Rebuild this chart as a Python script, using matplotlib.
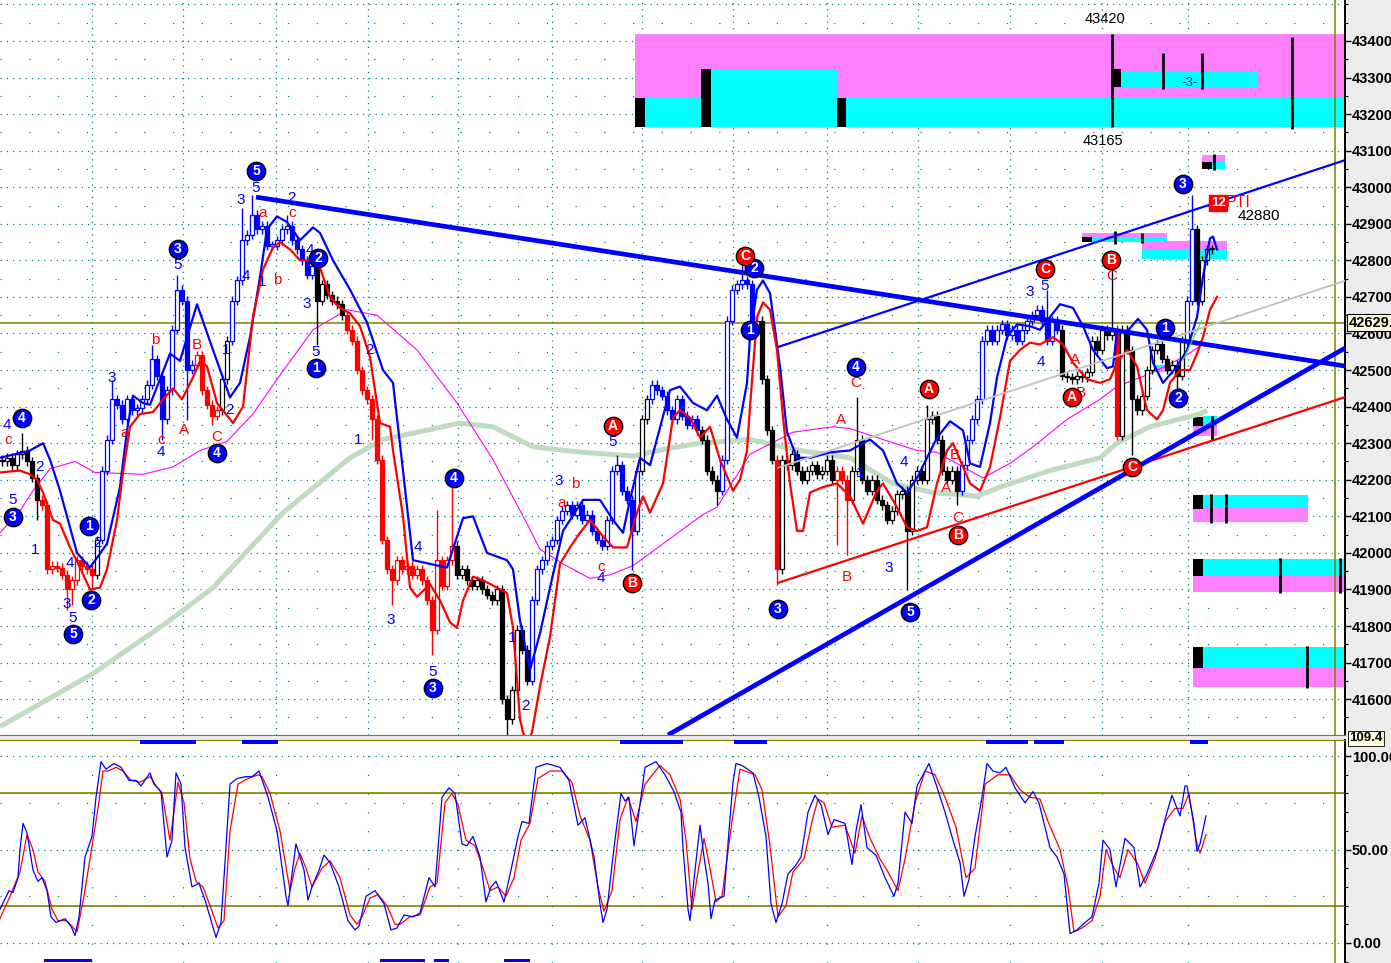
import numpy as np
import matplotlib
matplotlib.use("Agg")
import matplotlib.pyplot as plt
from matplotlib.patches import Rectangle
from matplotlib.transforms import blended_transform_factory
from matplotlib.ticker import FuncFormatter

plt.rcParams['font.family'] = ['Liberation Sans', 'DejaVu Sans']

BLUE = '#0000FF'
RED = '#FF0000'
OLIVE = '#808000'
TEAL = '#008080'
MAGENTA_BOX = '#FF80FF'
CYAN_BOX = '#00FFFF'

# ---------------- price bars (one bar every 5 chart units) ----------------
bar_step = 5
first_open = 42255
closes = [
    42250, 42260, 42240, 42270, 42280, 42250, 42205, 42145, 42130, 41955,
    41965, 41960, 41940, 41900, 41925, 41980, 41965, 41955, 41940, 42035,
    42225, 42310, 42420, 42405, 42365, 42420, 42390, 42395, 42420, 42460,
    42530, 42485, 42365, 42445, 42610, 42720, 42690, 42500, 42515, 42540,
    42445, 42405, 42375, 42390, 42475, 42580, 42690, 42745, 42855, 42870,
    42925, 42885, 42895, 42840, 42840, 42855, 42885, 42895, 42855, 42830,
    42800, 42760, 42785, 42690, 42735, 42705, 42690, 42680, 42650, 42610,
    42580, 42500, 42445, 42420, 42365, 42255, 42035, 41955, 41925, 41980,
    41955, 41965, 41940, 41955, 41925, 41870, 41790, 41980, 41910, 41980,
    42020, 41940, 41955, 41925, 41910, 41925, 41900, 41885, 41870, 41900,
    41600, 41545, 41625, 41790, 41735, 41650, 41870, 41955, 41980, 42020,
    42035, 42090, 42115, 42130, 42105, 42130, 42090, 42105, 42060, 42035,
    42020, 42090, 42225, 42240, 42170, 42145, 42060, 42225, 42365, 42420,
    42460, 42445, 42430, 42390, 42365, 42420, 42375, 42350, 42365, 42335,
    42310, 42225, 42200, 42170, 42255, 42635, 42720, 42735, 42745, 42735,
    42610, 42635, 42475, 42335, 42255, 41955, 42255, 42240, 42270, 42225,
    42200, 42225, 42240, 42215, 42225, 42255, 42200, 42225, 42200, 42145,
    42225, 42310, 42200, 42170, 42200, 42145, 42130, 42090, 42115, 42160,
    42170, 42060, 42200, 42225, 42200, 42365, 42375, 42310, 42225, 42200,
    42225, 42170, 42240, 42310, 42365, 42420, 42580, 42610, 42580, 42610,
    42625, 42595, 42610, 42580, 42610, 42635, 42650, 42665, 42635, 42580,
    42635, 42610, 42485, 42480, 42475, 42485, 42480, 42495, 42580, 42555,
    42610, 42595, 42610, 42320, 42610, 42555, 42420, 42390, 42430, 42500,
    42555, 42570, 42530, 42500, 42515, 42485, 42580, 42690, 42885, 42690,
    42800, 42830, 42830,
]
wick = 12
spike_hi = {4: 42328, 22: 42473, 30: 42568, 35: 42760, 48: 42943, 50: 42979,
            57: 42924, 87: 42117, 90: 42180, 123: 42268, 148: 42787, 171: 42426,
            185: 42404, 209: 42719, 222: 42787, 238: 42979}
spike_lo = {7: 42090, 13: 41844, 14: 41857, 18: 41898, 32: 42309, 37: 42363,
            42: 42350, 63: 42568, 74: 42309, 78: 41857, 86: 41720, 101: 41500,
            126: 41953, 143: 42131, 155: 41912, 167: 42021, 169: 41994, 181: 41898,
            191: 42131, 226: 42268, 235: 42445}
# bar colour by trend, (start position, colour)
trend_cols = [(0, 'k'), (42, 'r'), (95, 'k'), (100, 'b'), (197, 'r'), (218, 'k'),
              (232, 'b'), (315, 'k'), (345, 'r'), (455, 'k'), (530, 'b'), (640, 'k'),
              (650, 'b'), (700, 'k'), (722, 'b'), (760, 'k'), (775, 'r'), (780, 'k'),
              (835, 'r'), (850, 'k'), (960, 'b'), (1060, 'k'), (1114, 'r'), (1119, 'k'),
              (1185, 'b'), (1195, 'k')]

# ---------------- indicator lines ----------------
env_hi_x = [0, 30, 43, 50, 60, 77, 90, 107, 120, 127, 133, 143, 150, 170, 180, 197, 213, 230, 240, 250,
            260, 267, 277, 287, 300, 313, 320, 333, 350, 367, 383, 393, 403, 413, 430, 447, 463, 473, 487, 507,
            513, 520, 530, 540, 550, 563, 583, 600, 613, 623, 630, 640, 650, 670, 680, 693, 707, 717, 727, 737,
            747, 750, 757, 763, 770, 780, 787, 797, 810, 830, 850, 863, 870, 883, 897, 907, 917, 937, 950, 963,
            970, 980, 990, 997, 1007, 1017, 1030, 1040, 1050, 1060, 1073, 1083, 1093, 1107, 1113, 1117, 1127,
            1138, 1147, 1153, 1163, 1177, 1187, 1197, 1203, 1210, 1213, 1217]
env_hi = [42260, 42280, 42300, 42255, 42170, 42000, 41960, 42025, 42180, 42335, 42430, 42410, 42405, 42545,
          42525, 42680, 42555, 42425, 42465, 42590, 42755, 42885, 42920, 42905, 42855, 42890, 42875, 42800,
          42720, 42630, 42500, 42465, 42225, 41980, 41970, 41960, 42095, 42100, 42000, 41980, 41955, 41815,
          41680, 41780, 41905, 42060, 42145, 42145, 42090, 42055, 42145, 42260, 42240, 42445, 42455, 42410,
          42390, 42430, 42365, 42315, 42465, 42590, 42720, 42745, 42710, 42510, 42330, 42260, 42260, 42275,
          42280, 42300, 42310, 42280, 42190, 42165, 42205, 42315, 42360, 42335, 42245, 42235, 42355, 42480,
          42590, 42625, 42620, 42610, 42645, 42680, 42670, 42620, 42555, 42505, 42510, 42605, 42605, 42640,
          42610, 42520, 42465, 42510, 42555, 42645, 42755, 42860, 42865, 42830]
env_lo_x = [0, 20, 30, 37, 43, 53, 60, 70, 80, 90, 100, 107, 117, 123, 130, 140, 153, 163, 173, 182,
            193, 200, 207, 217, 233, 243, 253, 263, 273, 280, 290, 300, 310, 320, 330, 340, 350, 360, 370, 380,
            390, 393, 403, 410, 417, 430, 440, 450, 457, 463, 473, 483, 497, 507, 513, 520, 523, 527, 532, 540,
            550, 560, 570, 580, 590, 603, 613, 627, 637, 643, 650, 663, 673, 680, 690, 700, 710, 720, 733, 740,
            747, 750, 757, 763, 770, 777, 783, 790, 797, 803, 810, 823, 837, 850, 863, 877, 883, 897, 907, 917,
            927, 937, 947, 953, 963, 970, 980, 990, 1000, 1010, 1020, 1030, 1040, 1053, 1063, 1073, 1087, 1100,
            1110, 1117, 1127, 1137, 1147, 1157, 1163, 1170, 1180, 1190, 1197, 1203, 1210, 1217]
env_lo = [42220, 42225, 42215, 42200, 42165, 42090, 42080, 42015, 41960, 41900, 41905, 41955, 42090, 42220,
          42345, 42380, 42385, 42420, 42450, 42420, 42480, 42525, 42510, 42410, 42355, 42400, 42645, 42775,
          42835, 42850, 42830, 42800, 42800, 42780, 42700, 42670, 42655, 42620, 42535, 42355, 42345, 42280,
          42100, 41905, 41880, 41915, 41870, 41810, 41795, 41870, 41935, 41925, 41905, 41890, 41795, 41545,
          41510, 41475, 41510, 41635, 41770, 41970, 42015, 42055, 42090, 42045, 42015, 42015, 42110, 42155,
          42110, 42190, 42370, 42390, 42370, 42315, 42345, 42255, 42170, 42200, 42280, 42400, 42645, 42685,
          42665, 42555, 42370, 42190, 42060, 42060, 42165, 42180, 42190, 42155, 42080, 42170, 42190, 42125,
          42070, 42060, 42070, 42190, 42280, 42300, 42235, 42190, 42170, 42235, 42370, 42525, 42555, 42575,
          42570, 42590, 42570, 42520, 42475, 42465, 42475, 42520, 42555, 42510, 42390, 42365, 42390, 42465,
          42500, 42500, 42545, 42590, 42665, 42700]
ma_long_x = [0, 93, 167, 213, 283, 350, 383, 460, 493, 533, 583, 633, 667, 700, 750, 800, 850, 893, 933,
             977, 1000, 1050, 1100, 1117, 1150, 1200, 1207]
ma_long = [41525, 41670, 41810, 41905, 42110, 42260, 42310, 42355, 42345, 42290, 42275, 42265, 42285,
           42300, 42310, 42280, 42260, 42190, 42165, 42155, 42180, 42225, 42260, 42300, 42345, 42380, 42390]
ma_mid_x = [0, 20, 33, 50, 75, 95, 143, 173, 200, 227, 253, 277, 313, 347, 377, 417, 457, 493, 527, 540,
            563, 590, 610, 633, 663, 703, 717, 750, 793, 833, 850, 883, 917, 937, 963, 983, 1010, 1033, 1067,
            1100, 1117, 1150, 1183, 1203]
ma_mid = [42055, 42115, 42170, 42230, 42250, 42220, 42215, 42235, 42280, 42305, 42380, 42475, 42610, 42665,
          42650, 42555, 42410, 42255, 42080, 42010, 41970, 41930, 41940, 41965, 42025, 42105, 42125, 42270,
          42330, 42345, 42340, 42310, 42280, 42275, 42235, 42205, 42245, 42290, 42365, 42420, 42455, 42490,
          42535, 42570]

# trend lines ((x0, p0), (x1, p1), colour, width)
trend_lines = [
    ((777, 42232), (1345, 42744), '#C0C0C0', 1.3),
    ((778, 41918), (1345, 42426), RED, 1.6),
    ((778, 42563), (1345, 43074), BLUE, 1.6),
    ((256, 42973), (1345, 42511), BLUE, 3.4),
    ((668, 41502), (1345, 42560), BLUE, 3.4),
    ((1183, 42527), (1202, 42637), '#40E040', 0.8),
]
last_price = 42629.8

# projection boxes (x0, x1, p_low, p_high, colour)
boxes = [
    (635, 1345, 43244, 43420, MAGENTA_BOX), (635, 1345, 43165, 43244, CYAN_BOX),
    (711, 837, 43244, 43323, CYAN_BOX), (1121, 1257, 43271, 43318, CYAN_BOX),
    (635, 645, 43165, 43244, 'k'), (701, 711, 43165, 43323, 'k'), (837, 846, 43165, 43244, 'k'),
    (1112, 1121, 43274, 43323, 'k'),
    (1202, 1225, 43069, 43088, MAGENTA_BOX), (1212, 1225, 43050, 43069, CYAN_BOX), (1202, 1212, 43050, 43069, 'k'),
    (1082, 1167, 42862, 42875, MAGENTA_BOX), (1092, 1167, 42850, 42862, CYAN_BOX), (1082, 1092, 42850, 42863, 'k'),
    (1142, 1227, 42828, 42853, MAGENTA_BOX), (1142, 1227, 42804, 42828, CYAN_BOX),
    (1152, 1170, 42505, 42514, CYAN_BOX), (1152, 1170, 42495, 42505, MAGENTA_BOX),
    (1193, 1217, 42320, 42347, MAGENTA_BOX), (1203, 1217, 42347, 42374, CYAN_BOX), (1193, 1203, 42347, 42371, 'k'),
    (1193, 1308, 42123, 42158, CYAN_BOX), (1193, 1308, 42084, 42123, MAGENTA_BOX), (1193, 1203, 42120, 42158, 'k'),
    (1193, 1345, 41937, 41983, CYAN_BOX), (1193, 1345, 41893, 41937, MAGENTA_BOX), (1193, 1203, 41937, 41983, 'k'),
    (1193, 1345, 41688, 41742, CYAN_BOX), (1193, 1345, 41633, 41688, MAGENTA_BOX), (1193, 1203, 41686, 41742, 'k'),
]
box_ticks = [(1112, 43165, 43420), (1163, 43269, 43367), (1202, 43269, 43367), (1292, 43159, 43411),
             (1214, 43047, 43091), (1115, 42844, 42880), (1142, 42847, 42875), (1212, 42309, 42374),
             (1211, 42081, 42161), (1226, 42081, 42161), (1280, 41890, 41986), (1340, 41890, 41986),
             (1307, 41630, 41745)]

# wave labels (x, price, text)
blue_digits = [(7, 42350, '4'), (13, 42145, '5'), (40, 42235, '2'), (35, 42008, '1'), (67, 41860, '3'),
               (73, 41822, '5'), (70, 41972, '4'), (98, 42027, '2'), (112, 42478, '3'), (178, 42787, '5'),
               (161, 42276, '4'), (226, 42555, '1'), (229, 42391, '2'), (246, 42757, '4'), (241, 42965, '3'),
               (256, 42998, '5'), (262, 42741, '1'), (292, 42970, '2'), (310, 42828, '4'), (307, 42681, '3'),
               (316, 42549, '5'), (358, 42309, '1'), (370, 42555, '2'), (418, 42016, '4'), (391, 41816, '3'),
               (433, 41674, '5'), (512, 41767, '1'), (526, 41581, '2'), (559, 42196, '3'), (601, 41931, '4'),
               (613, 42303, '5'), (860, 42218, '1'), (889, 41959, '3'), (904, 42248, '4'), (1030, 42713, '3'),
               (1045, 42730, '5'), (1041, 42522, '4')]
red_letters = [(8, 42309, 'c'), (125, 42328, 'a'), (155, 42582, 'b'), (161, 42309, 'c'), (184, 42336, 'A'),
               (197, 42568, 'B'), (217, 42317, 'C'), (263, 42929, 'a'), (277, 42746, 'b'), (292, 42929, 'c'),
               (562, 42136, 'a'), (575, 42188, 'b'), (601, 41961, 'c'), (841, 42363, 'A'), (847, 41934, 'B'),
               (856, 42465, 'C'), (946, 42177, 'A'), (955, 42268, 'B'), (958, 42095, 'C'), (1075, 42527, 'A'),
               (1081, 42437, 'B'), (1112, 42757, 'C')]
blue_circles = [(22, 42369, '4'), (13, 42098, '3'), (73, 41778, '5'), (91, 41871, '2'), (89, 42073, '1'),
                (178, 42831, '3'), (217, 42273, '4'), (256, 43044, '5'), (318, 42806, '2'), (316, 42506, '1'),
                (454, 42205, '4'), (433, 41630, '3'), (754, 42779, '2'), (750, 42610, '1'), (778, 41846, '3'),
                (856, 42508, '4'), (910, 41838, '5'), (1165, 42615, '1'), (1178, 42424, '2'), (1183, 43009, '3')]
red_circles = [(613, 42347, 'A'), (632, 41918, 'B'), (745, 42812, 'C'), (929, 42448, 'A'), (958, 42049, 'B'),
               (1045, 42776, 'C'), (1072, 42426, 'A'), (1111, 42801, 'B'), (1132, 42235, 'C')]

time_grid = [92, 183, 276, 368, 458, 552, 642, 733, 827, 918, 1010, 1102, 1188]

# ---------------- oscillator ----------------
osc_k_x = [0, 9, 13, 18, 20, 23, 27, 33, 38, 42, 47, 51, 56, 65, 71, 75, 79, 85, 92, 96,
           101, 106, 114, 121, 129, 136, 141, 150, 154, 161, 167, 172, 176, 181, 185, 192, 199, 205, 216, 221,
           225, 230, 237, 246, 252, 259, 268, 277, 286, 288, 292, 296, 304, 308, 312, 319, 324, 330, 339, 348,
           355, 359, 366, 375, 384, 391, 397, 404, 413, 420, 429, 435, 442, 449, 455, 462, 467, 473, 480, 486,
           491, 496, 504, 511, 518, 522, 529, 536, 547, 560, 569, 578, 585, 594, 600, 603, 607, 614, 621, 625,
           629, 634, 641, 645, 656, 665, 674, 681, 683, 688, 690, 694, 700, 704, 708, 711, 715, 724, 729, 733,
           736, 742, 753, 759, 766, 771, 776, 782, 788, 795, 801, 808, 815, 821, 828, 834, 845, 852, 856, 861,
           867, 876, 885, 894, 898, 905, 912, 917, 929, 936, 945, 953, 960, 964, 969, 975, 982, 987, 993, 1000,
           1006, 1015, 1025, 1033, 1039, 1044, 1050, 1057, 1064, 1070, 1077, 1083, 1092, 1099, 1103, 1110, 1116,
           1125, 1134, 1140, 1147, 1158, 1167, 1172, 1180, 1185, 1187, 1194, 1197, 1200, 1206]
osc_k = [18, 28, 27, 35, 50, 64, 59, 39, 33, 35, 28, 14, 11, 13, 9, 4, 14, 46, 57, 78,
         97, 93, 96, 94, 87, 87, 84, 91, 85, 81, 46, 55, 91, 85, 51, 30, 32, 23, 3, 11,
         43, 85, 88, 89, 89, 92, 78, 60, 25, 20, 37, 53, 39, 23, 30, 39, 47, 43, 30, 12,
         7, 9, 25, 28, 21, 7, 8, 15, 14, 16, 35, 30, 78, 83, 80, 53, 52, 57, 46, 22,
         30, 33, 22, 39, 57, 65, 64, 94, 96, 94, 87, 63, 67, 46, 21, 11, 18, 51, 80, 76,
         78, 52, 78, 94, 97, 90, 81, 70, 51, 18, 12, 34, 63, 46, 32, 13, 23, 25, 60, 86,
         96, 95, 91, 78, 57, 21, 11, 21, 37, 41, 46, 70, 79, 74, 58, 66, 64, 42, 60, 74,
         51, 47, 35, 25, 32, 70, 64, 84, 96, 85, 70, 55, 43, 25, 34, 57, 78, 96, 92, 91,
         94, 83, 75, 81, 75, 64, 51, 46, 37, 5, 7, 10, 14, 32, 55, 50, 30, 56, 51, 30,
         37, 51, 70, 79, 68, 84, 84, 64, 49, 53, 68]
osc_d_x = [0, 10, 20, 27, 33, 38, 45, 52, 58, 66, 72, 77, 84, 92, 98, 103, 108, 116, 123, 131,
           140, 150, 156, 162, 170, 178, 184, 190, 196, 203, 210, 218, 224, 230, 238, 248, 258, 262, 270, 280,
           290, 295, 300, 306, 312, 322, 330, 340, 350, 357, 362, 370, 378, 387, 395, 400, 410, 420, 430, 437,
           445, 452, 458, 466, 475, 483, 490, 498, 506, 514, 521, 530, 538, 550, 562, 572, 580, 590, 598, 604,
           612, 620, 628, 636, 645, 660, 670, 680, 686, 692, 698, 704, 710, 716, 722, 732, 740, 755, 762, 770,
           778, 786, 793, 804, 812, 818, 824, 832, 845, 855, 862, 870, 880, 888, 898, 905, 915, 925, 935, 945,
           956, 966, 975, 985, 998, 1010, 1020, 1030, 1040, 1048, 1060, 1068, 1074, 1082, 1092, 1100, 1106,
           1114, 1120, 1128, 1138, 1145, 1155, 1165, 1175, 1183, 1189, 1196, 1200, 1206]
osc_d = [13, 25, 38, 58, 50, 38, 33, 18, 12, 12, 9, 6, 25, 52, 72, 92, 92, 94, 92, 87,
         86, 89, 84, 80, 55, 86, 75, 45, 33, 30, 20, 8, 12, 60, 85, 88, 90, 89, 80, 60,
         28, 40, 48, 40, 30, 40, 44, 35, 15, 10, 14, 24, 26, 20, 10, 10, 14, 15, 30, 32,
         75, 80, 74, 55, 52, 40, 28, 30, 25, 35, 55, 64, 88, 92, 92, 86, 68, 55, 30, 17,
         28, 66, 78, 65, 85, 95, 90, 77, 55, 18, 38, 56, 40, 22, 25, 65, 93, 90, 82, 52,
         14, 20, 38, 45, 65, 77, 75, 62, 63, 48, 68, 56, 45, 38, 28, 45, 75, 92, 90, 78,
         62, 35, 40, 85, 90, 90, 82, 78, 77, 65, 50, 30, 6, 8, 12, 25, 50, 40, 35, 50,
         42, 32, 45, 65, 72, 72, 80, 55, 48, 58]
osc_top_marks = [(140, 196), (242, 278), (620, 683), (734, 767), (986, 1028), (1034, 1064), (1190, 1208)]
osc_bottom_marks = [(44, 92), (380, 425), (434, 449), (504, 530)]

# ================= figure =================
W, H = 1391, 963
fig = plt.figure(figsize=(W / 100, H / 100), dpi=100, facecolor='#ECECEC')
axp = fig.add_axes([0, 1 - 735 / H, 1345 / W, 735 / H])
axo = fig.add_axes([0, 0, 1345 / W, 223 / H])

PMIN, PMAX = 41502, 43512
OMIN, OMAX = -10.7, 108.6
XMAX = 1345

for ax in (axp, axo):
    ax.set_facecolor('white')
    ax.set_xlim(0, XMAX)
    ax.set_xticks([])
    ax.spines['left'].set_visible(False)
    ax.spines['right'].set_color('black')
    ax.spines['right'].set_linewidth(1.4)
    ax.yaxis.tick_right()
    ax.tick_params(axis='y', which='major', direction='out', length=4, width=1, pad=1,
                   labelsize=10.5, colors='black')
    ax.tick_params(axis='y', which='minor', direction='out', length=2, width=0.8)
    ax.axvline(1335, color=OLIVE, lw=1.1, zorder=6)

axp.spines['top'].set_visible(False)
axp.spines['bottom'].set_color(OLIVE)
axo.spines['top'].set_color(OLIVE)
axo.spines['bottom'].set_visible(False)

# ---- price panel ----
axp.set_ylim(PMIN, PMAX)
axp.set_yticks(np.arange(41600, 43401, 100))
axp.set_yticks(np.arange(41550, 43501, 50), minor=True)
axp.yaxis.set_major_formatter(FuncFormatter(lambda v, p: f"{v:.1f}"))
for lab in axp.get_yticklabels():
    lab.set_fontweight('bold')

for p in np.arange(41600, 43501, 100):
    axp.axhline(p, color=TEAL, lw=0.9, ls=(0, (1, 4)), zorder=0)
for p in np.arange(41550, 43501, 100):
    axp.axhline(p, color=TEAL, lw=0.9, ls=(0, (1, 22)), zorder=0)
for x in time_grid:
    axp.axvline(x, color=TEAL, lw=0.9, ls=(0, (1, 4)), zorder=0)

for x0, x1, p0, p1, col in boxes:
    axp.add_patch(Rectangle((x0, p0), x1 - x0, p1 - p0, facecolor=col, edgecolor='none', zorder=1))
for x, p0, p1 in box_ticks:
    axp.vlines(x, p0, p1, color='k', lw=2.0, zorder=2)
axp.text(1105, 43440, '43420', ha='center', va='bottom', fontsize=10.5, zorder=3)
axp.text(1103, 43145, '43165', ha='center', va='top', fontsize=10.5, zorder=3)
axp.text(1190, 43285, '-3-', ha='center', va='center', fontsize=9.5, color=BLUE, zorder=3)

axp.plot(ma_long_x, ma_long, color='#C0DCC0', lw=3.6, zorder=2, solid_capstyle='butt')
axp.plot(ma_mid_x, ma_mid, color='#FF00FF', lw=0.8, zorder=2)
axp.axhline(last_price, color=OLIVE, lw=1.1, zorder=2)

# candles
col_map = {'k': 'black', 'b': BLUE, 'r': RED}
opens = [first_open] + closes[:-1]
for i, (o, c) in enumerate(zip(opens, closes)):
    x = 2 + bar_step * i
    key = 'k'
    for start, k in trend_cols:
        if x >= start:
            key = k
    col = col_map[key]
    hi = spike_hi.get(i, max(o, c) + wick)
    lo = spike_lo.get(i, min(o, c) - wick)
    axp.vlines(x, lo, hi, color=col, lw=1.0, zorder=3)
    body = max(abs(c - o), 5)
    up = c >= o
    axp.add_patch(Rectangle((x - 1.6, min(o, c)), 3.2, body,
                            facecolor='white' if up else col, edgecolor=col, lw=0.9, zorder=4))

axp.plot(env_hi_x, env_hi, color=BLUE, lw=1.6, zorder=5)
axp.plot(env_lo_x, env_lo, color=RED, lw=1.6, zorder=5)

for (x0, p0), (x1, p1), col, lw in trend_lines:
    axp.plot([x0, x1], [p0, p1], color=col, lw=lw, zorder=6, solid_capstyle='butt')

for x, p, t in blue_digits:
    axp.text(x, p, t, color=BLUE, fontsize=11, ha='center', va='center', zorder=8)
for x, p, t in red_letters:
    axp.text(x, p, t, color=RED, fontsize=11, ha='center', va='center', zorder=8)
for circles, col in ((blue_circles, BLUE), (red_circles, RED)):
    for x, p, t in circles:
        axp.scatter([x], [p], s=175, color=col, edgecolors='black', linewidths=1.0, zorder=9)
        axp.text(x, p, t, color='white', fontsize=10, fontweight='bold', ha='center', va='center', zorder=10)

axp.text(1218, 42957, '12', color='white', fontsize=9.5, fontweight='bold', ha='center', va='center',
         bbox=dict(boxstyle='square,pad=0.12', fc=RED, ec=RED), zorder=10)
axp.text(1226, 42957, 'PTI', color=RED, fontsize=11.5, ha='left', va='center', zorder=10)
axp.text(1238, 42921, '42880', color='black', fontsize=11, ha='left', va='center', zorder=10)

tr = blended_transform_factory(axp.transAxes, axp.transData)
axp.text(1.003, last_price, f"{last_price:.1f}", transform=tr, ha='left', va='center', fontsize=10.5,
         fontweight='bold', clip_on=False, zorder=20,
         bbox=dict(boxstyle='square,pad=0.12', fc='#FFFFE0', ec='black', lw=0.8))

# ---- oscillator panel ----
axo.set_ylim(OMIN, OMAX)
axo.set_yticks([0, 50, 100])
axo.set_yticks(np.arange(-10, 101, 10), minor=True)
axo.yaxis.set_major_formatter(FuncFormatter(lambda v, p: f"{v:.2f}"))
for lab in axo.get_yticklabels():
    lab.set_fontweight('bold')
for v in (0, 50, 100):
    axo.axhline(v, color=TEAL, lw=0.9, ls=(0, (1, 4)), zorder=0)
for v in (25, 75):
    axo.axhline(v, color=TEAL, lw=0.9, ls=(0, (1, 22)), zorder=0)
for x in time_grid:
    axo.axvline(x, color=TEAL, lw=0.9, ls=(0, (1, 14)), zorder=0)
for v in (20, 80):
    axo.axhline(v, color=OLIVE, lw=1.2, zorder=1)
axo.plot(osc_d_x, osc_d, color=RED, lw=0.9, zorder=3)
axo.plot(osc_k_x, osc_k, color=BLUE, lw=0.9, zorder=4)
axo.broken_barh([(a, b - a) for a, b in osc_top_marks], (106.4, 2.2), facecolors=BLUE, zorder=5)
axo.broken_barh([(a, b - a) for a, b in osc_bottom_marks], (-10.4, 2.0), facecolors=BLUE, zorder=5)

tro = blended_transform_factory(axo.transAxes, axo.transData)
axo.text(1.003, 109.5, '109.4', transform=tro, ha='left', va='center', fontsize=9.5, fontweight='bold',
         clip_on=False, zorder=1, bbox=dict(boxstyle='square,pad=0.1', fc='#FFFFE0', ec='black', lw=0.6))

fig.savefig('out.png', dpi=100, facecolor=fig.get_facecolor())
